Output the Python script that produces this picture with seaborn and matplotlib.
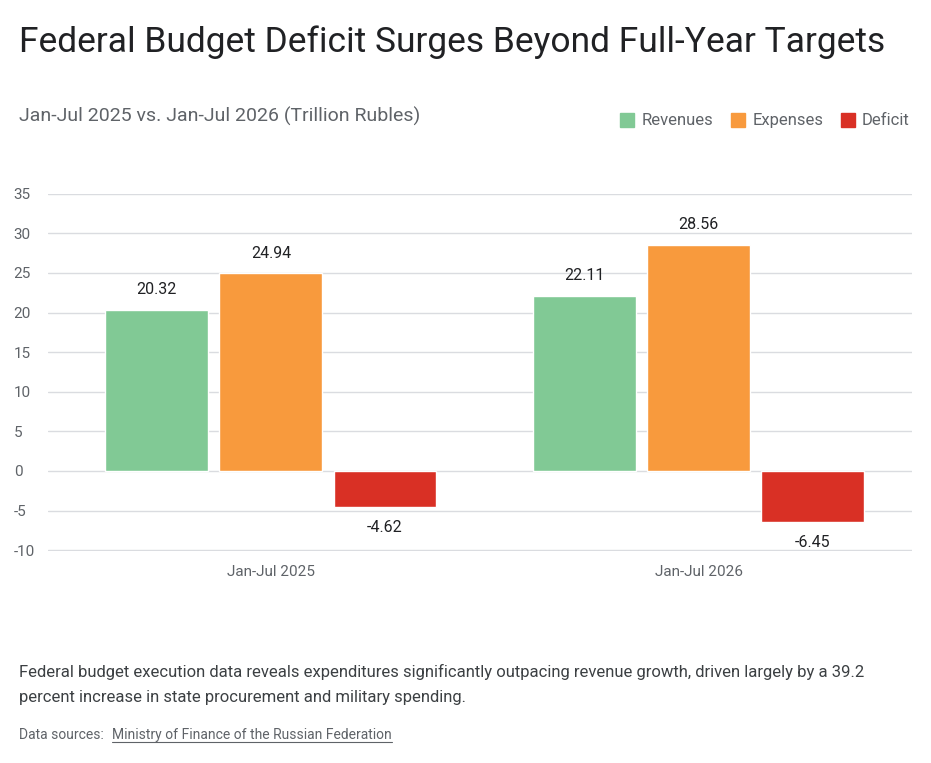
import pandas as pd
import seaborn as sns
import matplotlib.pyplot as plt

periods = ['Jan-Jul 2025', 'Jan-Jul 2026']
series = ['Revenues', 'Expenses', 'Deficit']
revenues = [20.32, 22.11]
expenses = [24.94, 28.56]
deficit = [-4.62, -6.45]
colors = ['#81C995', '#F89A3D', '#D93025']

df = pd.DataFrame({
    'period': periods * 3,
    'series': [s for s in series for _ in periods],
    'value': revenues + expenses + deficit,
})

sns.set_style('white')
plt.rcParams['font.family'] = ['Roboto', 'DejaVu Sans']

fig = plt.figure(figsize=(9.31, 7.63), dpi=100)
ax = fig.add_axes([0.052, 0.278, 0.928, 0.468])
sns.barplot(data=df, x='period', y='value', hue='series', palette=colors,
            saturation=1, width=0.8, gap=0.1, ax=ax, legend=False, zorder=3)

for cont in ax.containers:
    for bar in cont:
        h = bar.get_height()
        x = bar.get_x() + bar.get_width() / 2
        if h >= 0:
            ax.text(x, h + 1.6, f'{h:.2f}', ha='center', va='bottom', fontsize=11.5, color='#202124')
        else:
            ax.text(x, h - 1.6, f'{h:.2f}', ha='center', va='top', fontsize=11.5, color='#202124')

ticks = list(range(-10, 40, 5))
ax.set_ylim(-10.1, 35)
ax.set_xlim(-0.52, 1.5)
ax.set_yticks(ticks)
ax.set_yticklabels([str(v) for v in ticks])
for lab in ax.get_yticklabels():
    lab.set_horizontalalignment('left')
ax.yaxis.grid(True, color='#dadce0', linewidth=1, zorder=0)
ax.tick_params(axis='both', length=0, labelsize=11, labelcolor='#5f6368')
ax.tick_params(axis='y', pad=25)
ax.tick_params(axis='x', pad=10)
ax.set_xlabel('')
ax.set_ylabel('')
sns.despine(ax=ax, left=True, bottom=True)

fig.text(0.02, 0.945, 'Federal Budget Deficit Surges Beyond Full-Year Targets',
         fontsize=25.5, color='#202124', va='center')
fig.text(0.02, 0.848, 'Jan-Jul 2025 vs. Jan-Jul 2026 (Trillion Rubles)',
         fontsize=14, color='#5f6368', va='center')

lx = [0.666, 0.785, 0.903]
for x, s, c in zip(lx, series, colors):
    fig.patches.append(plt.Rectangle((x, 0.833), 0.015, 0.019, transform=fig.transFigure,
                                     color=c, figure=fig))
    fig.text(x + 0.023, 0.842, s, fontsize=12, color='#5f6368', va='center')

fig.text(0.02, 0.103, 'Federal budget execution data reveals expenditures significantly outpacing revenue growth, driven largely by a 39.2\npercent increase in state procurement and military spending.',
         fontsize=12, color='#3c4043', va='center', linespacing=1.8)
fig.text(0.02, 0.037, 'Data sources: ', fontsize=10, color='#5f6368', va='center')
fig.text(0.12, 0.037, 'Ministry of Finance of the Russian Federation', fontsize=10,
         color='#5f6368', va='center')
fig.add_artist(plt.Line2D([0.12, 0.421], [0.027, 0.027], transform=fig.transFigure,
                          color='#5f6368', lw=0.8))

fig.savefig('out.png', dpi=100)
